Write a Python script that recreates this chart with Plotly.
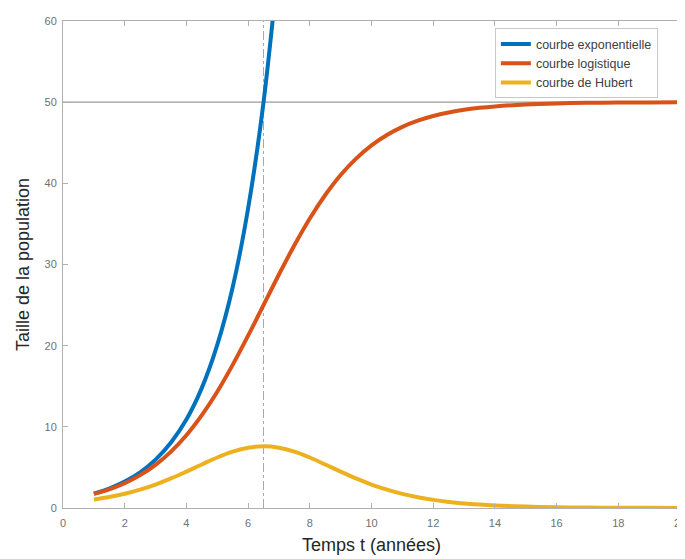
import plotly.graph_objects as go

t = [1, 1.5, 2, 2.5, 3, 3.5, 4, 4.5, 5, 5.5, 6, 6.5, 7, 7.5, 8, 8.5, 9, 9.5, 10,
     10.5, 11, 11.5, 12, 12.5, 13, 13.5, 14, 15, 16, 17, 18, 19, 20]

t_exp = [1, 1.5, 2, 2.5, 3, 3.5, 4, 4.5, 5, 5.5, 6, 6.5, 7]
exponentielle = [1.77, 2.40, 3.25, 4.40, 5.96, 8.07, 10.9, 14.8, 20.1, 27.2, 36.9, 50.0, 67.8]

logistique = [1.75, 2.30, 3.05, 4.05, 5.32, 6.95, 8.97, 11.44, 14.33, 17.63, 21.23, 25.0,
              28.77, 32.37, 35.67, 38.56, 41.03, 43.05, 44.68, 45.96, 46.96, 47.72, 48.30,
              48.73, 49.06, 49.30, 49.48, 49.72, 49.85, 49.92, 49.95, 49.97, 49.99]

hubert = [1.05, 1.35, 1.76, 2.27, 2.89, 3.64, 4.48, 5.36, 6.22, 6.94, 7.43, 7.60,
          7.43, 6.94, 6.22, 5.36, 4.48, 3.64, 2.89, 2.26, 1.74, 1.32, 1.00,
          0.75, 0.56, 0.42, 0.31, 0.17, 0.09, 0.05, 0.03, 0.02, 0.01]

capacite = 50
t_inflexion = 6.5

names = ["courbe exponentielle", "courbe logistique", "courbe de Hubert"]
colors = ["#0072BD", "#D95319", "#EDB120"]

fig = go.Figure()
fig.add_hline(y=capacite, line=dict(color="#9a9a9a", width=1.2), layer="below")
fig.add_vline(x=t_inflexion, line=dict(color="#a8a8a8", width=1, dash="dashdot"), layer="below")

fig.add_trace(go.Scatter(x=t_exp, y=exponentielle, mode="lines", name=names[0],
                         line=dict(color=colors[0], width=4, shape="spline")))
fig.add_trace(go.Scatter(x=t, y=logistique, mode="lines", name=names[1],
                         line=dict(color=colors[1], width=4, shape="spline")))
fig.add_trace(go.Scatter(x=t, y=hubert, mode="lines", name=names[2],
                         line=dict(color=colors[2], width=4, shape="spline")))

axis_common = dict(
    showgrid=False, zeroline=False, showline=True, linecolor="#b0b0b0", linewidth=1,
    ticks="inside", ticklen=5, tickcolor="#b0b0b0",
    tickfont=dict(family="Liberation Sans, Arial, sans-serif", size=11, color="#707070"),
)

fig.update_layout(
    width=685, height=559,
    margin=dict(l=55, r=7, t=9, b=59),
    paper_bgcolor="white", plot_bgcolor="white",
    font=dict(family="Liberation Sans, Arial, sans-serif", color="#262626"),
    xaxis=dict(range=[0, 20], tickvals=list(range(0, 21, 2)), mirror="ticks",
               ticklabelstandoff=5,
               title=dict(text="Temps t (années)", font=dict(size=18, color="#262626"), standoff=10),
               **axis_common),
    yaxis=dict(range=[0, 60], tickvals=list(range(0, 61, 10)),
               ticklabelstandoff=3,
               title=dict(text="Taille de la population", font=dict(size=18, color="#262626"), standoff=10),
               **axis_common),
    legend=dict(x=0.70, y=0.985, xanchor="left", yanchor="top",
                bordercolor="#c8c8c8", borderwidth=1, bgcolor="white",
                font=dict(size=12.5, color="#404040"), tracegroupgap=0),
    showlegend=True,
)

fig.write_html("out.html")
